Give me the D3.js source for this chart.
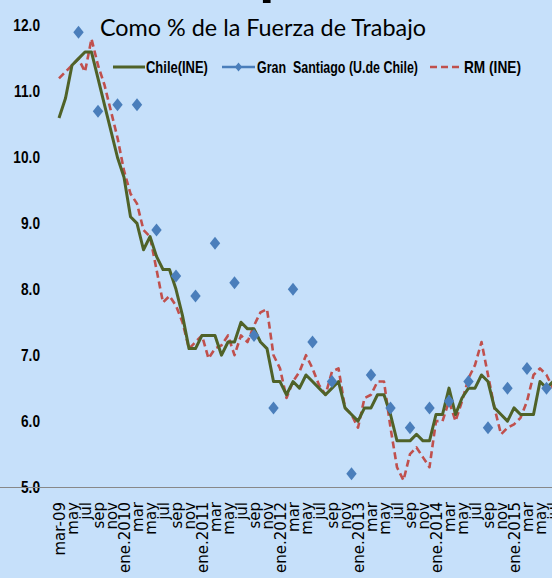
<!DOCTYPE html>
<html>
<head>
<meta charset="utf-8">
<script src="https://cdn.jsdelivr.net/npm/d3@7"></script>
<style>
  html, body { margin: 0; padding: 0; background: #C6E0FA; overflow: hidden; }
  svg { display: block; }
</style>
</head>
<body>
<svg id="chart" width="552" height="578"></svg>
<script>
// ---------------- DATA ----------------
const categories = [
  "mar-09","abr-09","may-09","jun-09","jul-09","ago-09","sep-09","oct-09","nov-09","dic-09",
  "ene-10","feb-10","mar-10","abr-10","may-10","jun-10","jul-10","ago-10","sep-10","oct-10","nov-10","dic-10",
  "ene-11","feb-11","mar-11","abr-11","may-11","jun-11","jul-11","ago-11","sep-11","oct-11","nov-11","dic-11",
  "ene-12","feb-12","mar-12","abr-12","may-12","jun-12","jul-12","ago-12","sep-12","oct-12","nov-12","dic-12",
  "ene-13","feb-13","mar-13","abr-13","may-13","jun-13","jul-13","ago-13","sep-13","oct-13","nov-13","dic-13",
  "ene-14","feb-14","mar-14","abr-14","may-14","jun-14","jul-14","ago-14","sep-14","oct-14","nov-14","dic-14",
  "ene-15","feb-15","mar-15","abr-15","may-15","jun-15","jul-15"
];

const tickLabels = [
  "mar-09","may","jul","sep","nov",
  "ene.2010","mar","may","jul","sep","nov",
  "ene.2011","mar","may","jul","sep","nov",
  "ene.2012","mar","may","jul","sep","nov",
  "ene.2013","mar","may","jul","sep","nov",
  "ene.2014","mar","may","jul","sep","nov",
  "ene.2015","mar","may","jul"
];

const chileINE = [
  10.6,10.9,11.4,11.5,11.6,11.6,11.2,10.8,10.4,10.0,
  9.7,9.1,9.0,8.6,8.8,8.5,8.3,8.3,8.0,7.6,7.1,7.1,
  7.3,7.3,7.3,7.0,7.2,7.2,7.5,7.4,7.4,7.2,7.1,6.6,
  6.6,6.4,6.6,6.5,6.7,6.6,6.5,6.4,6.5,6.6,6.2,6.1,
  6.0,6.2,6.2,6.4,6.4,6.1,5.7,5.7,5.7,5.8,5.7,5.7,
  6.1,6.1,6.5,6.1,6.35,6.5,6.5,6.7,6.6,6.2,6.1,6.0,
  6.2,6.1,6.1,6.1,6.6,6.5,6.6
];

const rmINE = [
  11.2,11.3,11.4,11.5,11.3,11.8,11.4,11.1,10.7,10.3,
  9.8,9.45,9.3,8.9,8.8,8.3,7.8,7.9,7.75,7.5,7.1,7.2,
  7.3,6.95,7.1,7.15,7.3,7.0,7.3,7.2,7.45,7.65,7.7,7.0,
  6.8,6.35,6.6,6.75,7.0,6.8,6.55,6.4,6.75,6.8,6.2,6.1,
  5.9,6.35,6.4,6.6,6.6,5.9,5.3,5.1,5.5,5.6,5.45,5.3,
  6.0,6.0,6.3,6.0,6.3,6.65,6.85,7.2,6.7,6.2,5.8,5.9,
  5.95,6.05,6.3,6.7,6.8,6.7,6.5
];

const gsMonths = [
  "jun-09","sep-09","dic-09","mar-10","jun-10","sep-10","dic-10","mar-11","jun-11","sep-11",
  "dic-11","mar-12","jun-12","sep-12","dic-12","mar-13","jun-13","sep-13","dic-13","mar-14",
  "jun-14","sep-14","dic-14","mar-15","jun-15"
];
const granSantiago = [
  11.9,10.7,10.8,10.8,8.9,8.2,7.9,8.7,8.1,7.3,
  6.2,8.0,7.2,6.6,5.2,6.7,6.2,5.9,6.2,6.3,
  6.6,5.9,6.5,6.8,6.5
];

const yTicks = [5,6,7,8,9,10,11,12];
const seriesNames = ["Chile(INE)", "Gran  Santiago (U.de Chile)", "RM (INE)"];

// ---------------- DRAW ----------------
const svg = d3.select("#chart");
const colGreen = "#4F6228", colBlue = "#4A7EBB", colRed = "#C0504D";
const sansFont = "'Liberation Sans', Arial, sans-serif";

const x = d3.scalePoint().domain(categories).range([59, 59 + 6.5 * (categories.length - 1)]);
const y = d3.scaleLinear().domain([5, 12]).range([487, 25.7]);

svg.append("rect").attr("width", 552).attr("height", 578).attr("fill", "#C6E0FA");

// cut-off big title at top
const big = svg.append("text")
  .attr("y", -9)
  .attr("font-family", sansFont)
  .attr("font-weight", "bold")
  .attr("font-size", 56)
  .attr("fill", "#000")
  .text("Desempleo");
{
  const p = big.node().getStartPositionOfChar(5).x;
  big.attr("x", 259 - p);
}

// subtitle
const sub = svg.append("text")
  .attr("x", 100).attr("y", 36)
  .attr("font-family", "Lato, 'Liberation Sans', sans-serif")
  .attr("font-size", 22)
  .attr("fill", "#000")
  .text("Como % de la Fuerza de Trabajo");
{
  const w = sub.node().getComputedTextLength();
  sub.attr("font-size", 22 * 326 / w);
}

// y axis labels (no axis line)
const yAxis = d3.axisLeft(y).tickValues(yTicks).tickFormat(d3.format(".1f")).tickSize(0).tickPadding(0);
const gy = svg.append("g").attr("transform", "translate(40,0)").call(yAxis);
gy.select(".domain").remove();
gy.selectAll("text")
  .attr("font-family", sansFont)
  .attr("font-weight", "bold")
  .attr("font-size", 16.5)
  .attr("fill", "#000")
  .attr("x", 0)
  .attr("transform", "scale(0.83,1)");

// x axis
const xAxis = d3.axisBottom(x)
  .tickValues(categories.filter((d, i) => i % 2 === 0))
  .tickFormat((d, i) => tickLabels[i])
  .tickSize(0);
const gx = svg.append("g").attr("transform", "translate(0,487)").call(xAxis);
gx.select(".domain").attr("stroke", "#888").attr("stroke-width", 1.2)
  .attr("d", "M-4,0.5H600");
gx.selectAll("text")
  .attr("font-family", "'DejaVu Sans', Verdana, sans-serif")
  .attr("font-size", 15)
  .attr("fill", "#000")
  .attr("text-anchor", "end")
  .attr("transform", "rotate(-90)")
  .attr("x", -15)
  .attr("y", 0)
  .attr("dy", "0.35em");

// lines
const line = d3.line().x((d, i) => x(categories[i])).y(d => y(d));

svg.append("path").datum(rmINE)
  .attr("fill", "none").attr("stroke", colRed).attr("stroke-width", 2.6)
  .attr("stroke-dasharray", "7,4").attr("stroke-linejoin", "round")
  .attr("d", line);

svg.append("path").datum(chileINE)
  .attr("fill", "none").attr("stroke", colGreen).attr("stroke-width", 3)
  .attr("stroke-linejoin", "round")
  .attr("d", line);

const diamond = "M0,-6.5L5.2,0L0,6.5L-5.2,0Z";
svg.append("g").selectAll("path").data(granSantiago).join("path")
  .attr("d", diamond)
  .attr("fill", colBlue)
  .attr("transform", (d, i) => `translate(${x(gsMonths[i])},${y(d)})`);

// legend
const lg = svg.append("g");
const legY = 67;
lg.append("line").attr("x1", 113).attr("x2", 145).attr("y1", legY).attr("y2", legY)
  .attr("stroke", colGreen).attr("stroke-width", 3);
lg.append("line").attr("x1", 222).attr("x2", 255).attr("y1", legY).attr("y2", legY)
  .attr("stroke", colBlue).attr("stroke-width", 2.5);
lg.append("path").attr("d", "M0,-4.5L3.6,0L0,4.5L-3.6,0Z").attr("fill", colBlue)
  .attr("transform", `translate(238.5,${legY})`);
lg.append("line").attr("x1", 430).attr("x2", 462).attr("y1", legY).attr("y2", legY)
  .attr("stroke", colRed).attr("stroke-width", 2.6).attr("stroke-dasharray", "7,4");

const legText = [[146, 62], [257, 161], [464, 57]];
seriesNames.forEach((name, k) => {
  const t = lg.append("text")
    .attr("x", 0).attr("y", 0)
    .attr("font-family", sansFont)
    .attr("font-weight", "bold")
    .attr("font-size", 16.5)
    .attr("fill", "#000")
    .style("white-space", "pre")
    .text(name);
  const w = t.node().getComputedTextLength();
  const sx = legText[k][1] / w;
  t.attr("transform", `translate(${legText[k][0]},${legY + 6}) scale(${sx},1)`);
});
</script>
</body>
</html>
